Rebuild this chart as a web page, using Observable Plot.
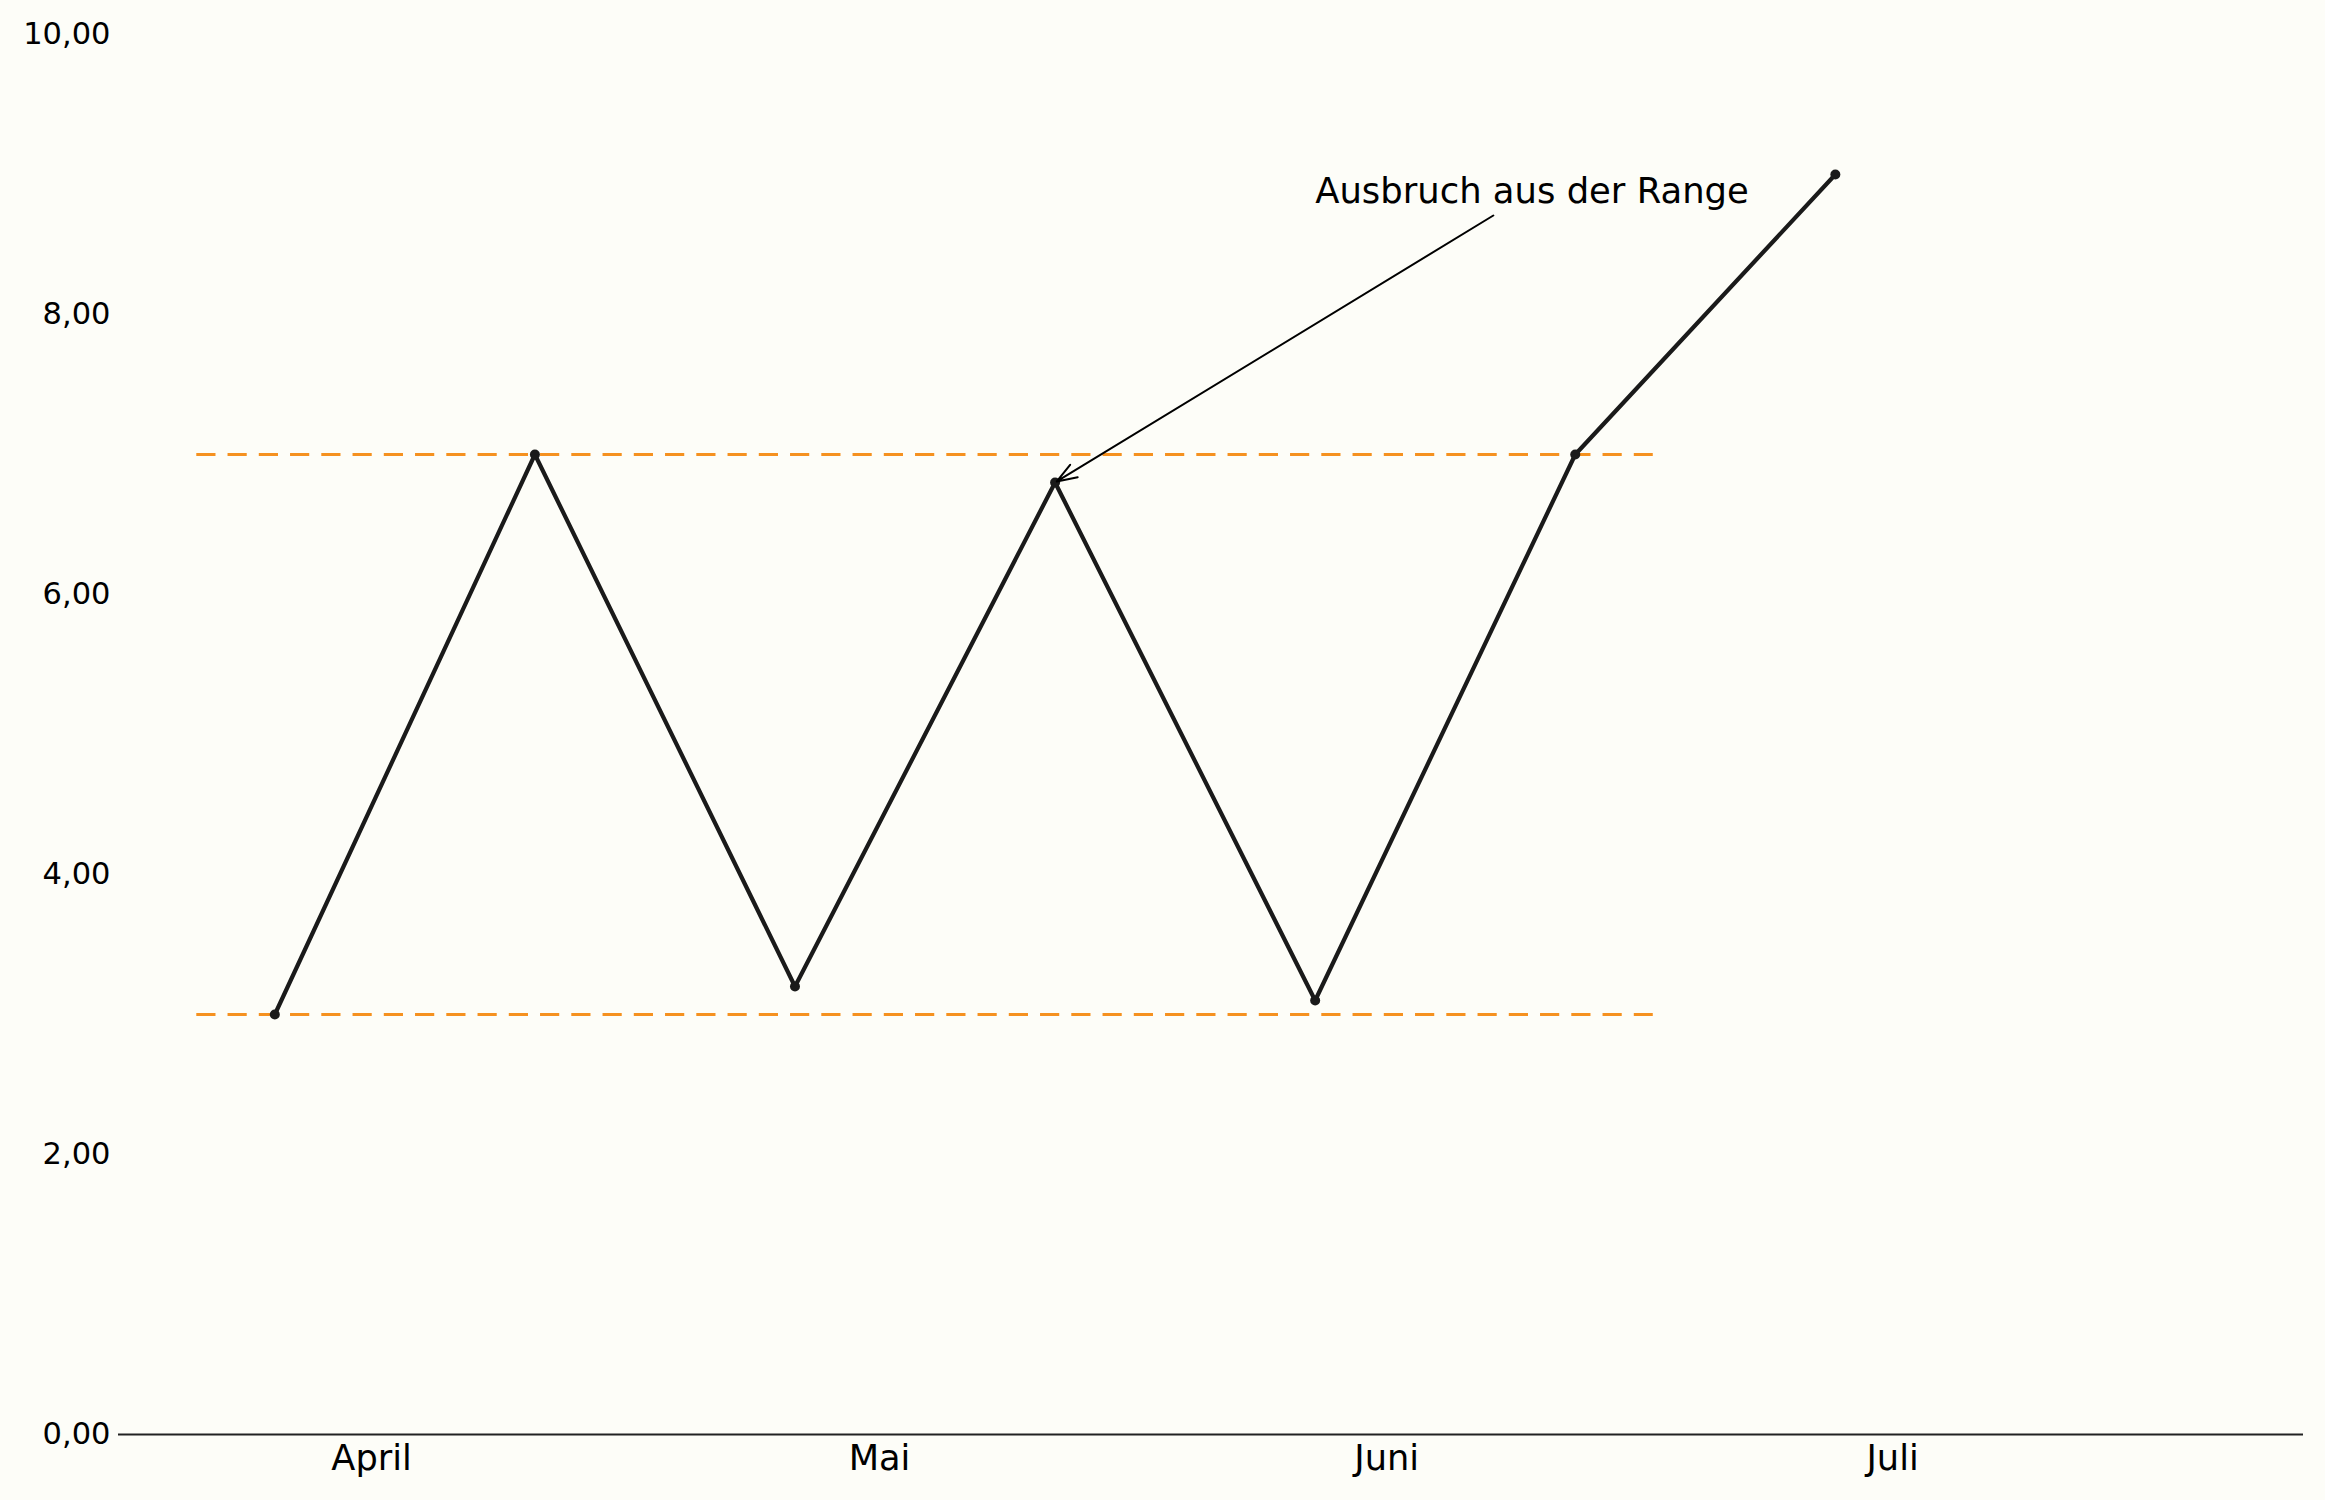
<!DOCTYPE html>
<html>
<head>
<meta charset="utf-8">
<script src="https://cdn.jsdelivr.net/npm/d3@7"></script>
<script src="https://cdn.jsdelivr.net/npm/@observablehq/plot@0.6"></script>
<style>
  html, body { margin: 0; padding: 0; background: #fdfdf8; overflow: hidden; }
  #chart { width: 2325px; height: 1500px; }
</style>
</head>
<body>
<div id="chart"></div>
<script>
// ---- data ----
const pointIndex = [0, 1, 2, 3, 4, 5, 6];
const pointValues = [3.0, 7.0, 3.2, 6.8, 3.1, 7.0, 9.0];

const monthLabels = ["April", "Mai", "Juni", "Juli"];
const monthPositions = [0.372, 2.325, 4.275, 6.22];

const yTicks = [0, 2, 4, 6, 8, 10];

const rangeLevels = [3, 7];
const rangeExtent = [-0.3, 5.3];

const annotationText = "Ausbruch aus der Range";
const annotationTextPos = [4.0, 8.8];
const annotationArrowFrom = [4.685, 8.707];
const annotationArrowTo = [3, 6.8];

// ---- build ----
const data = pointIndex.map((i, k) => ({i, v: pointValues[k]}));
const rangeRows = rangeLevels.map(v => ({y: v, x1: rangeExtent[0], x2: rangeExtent[1]}));
const labelByPos = new Map(monthPositions.map((p, k) => [p, monthLabels[k]]));
const fmt = d3.formatLocale({decimal: ",", thousands: ".", grouping: [3], currency: ["", "€"]}).format(".2f");
const annot = [{
  text: annotationText, tx: annotationTextPos[0], ty: annotationTextPos[1],
  ax1: annotationArrowFrom[0], ay1: annotationArrowFrom[1],
  ax2: annotationArrowTo[0], ay2: annotationArrowTo[1]
}];

const ink = "#1a1a1a";
const orange = "#f59120";

const chart = Plot.plot({
  width: 2325,
  height: 1500,
  marginLeft: 118,
  marginRight: 22,
  marginTop: 34,
  marginBottom: 66,
  style: {background: "#fdfdf8", fontFamily: "'DejaVu Sans', sans-serif", color: "#000"},
  x: {domain: [-0.601, 7.80], axis: null},
  y: {domain: [0, 10], axis: null},
  marks: [
    Plot.axisY(yTicks, {tickSize: 0, tickPadding: 8, tickFormat: fmt, fontSize: 30.5}),
    Plot.axisX(monthPositions, {tickSize: 0, tickPadding: 10, tickFormat: d => labelByPos.get(d), fontSize: 35.2}),
    Plot.ruleY([0], {stroke: "#222", strokeWidth: 2}),
    Plot.ruleY(rangeRows, {y: "y", x1: "x1", x2: "x2", stroke: orange, strokeWidth: 3, strokeDasharray: "19.2,12.05"}),
    Plot.line(data, {x: "i", y: "v", stroke: ink, strokeWidth: 4.2}),
    Plot.dot(data, {x: "i", y: "v", r: 5, fill: ink, stroke: "none"}),
    Plot.arrow(annot, {x1: "ax1", y1: "ay1", x2: "ax2", y2: "ay2", stroke: "#000", strokeWidth: 2, headLength: 16, headAngle: 40, insetEnd: 2}),
    Plot.text(annot, {x: "tx", y: "ty", text: "text", textAnchor: "start", lineAnchor: "bottom", fontSize: 35.4, fill: "#000"})
  ]
});
document.getElementById("chart").appendChild(chart);
</script>
</body>
</html>
